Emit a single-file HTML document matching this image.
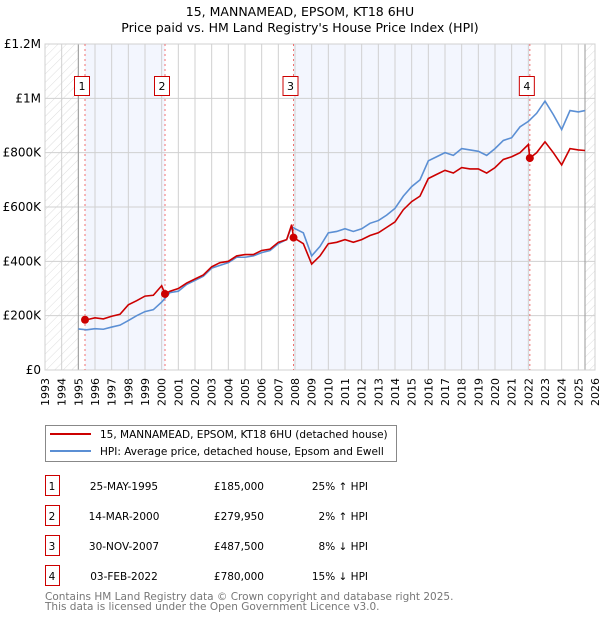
<!DOCTYPE html>
<html><head><meta charset="utf-8">
<style>
body{margin:0;background:#fff;font-family:"DejaVu Sans","Liberation Sans",sans-serif;}
svg text{font-family:"DejaVu Sans","Liberation Sans",sans-serif;}
</style></head>
<body>
<svg id="chart" width="600" height="620" xmlns="http://www.w3.org/2000/svg">
<defs>
<pattern id="hatch" width="6" height="6" patternUnits="userSpaceOnUse" patternTransform="rotate(45)">
<line x1="0" y1="0" x2="0" y2="6" stroke="#ddd" stroke-width="1"/>
</pattern>
</defs>
<text x="300" y="16" text-anchor="middle" font-size="12.5" fill="#000">15, MANNAMEAD, EPSOM, KT18 6HU</text>
<text x="300" y="32" text-anchor="middle" font-size="12.5" fill="#000">Price paid vs. HM Land Registry's House Price Index (HPI)</text>
<g id="plot"></g>
<g>
<rect x="45.5" y="425.5" width="351" height="36" fill="#fff" stroke="#888"/>
<line x1="50" y1="434" x2="91" y2="434" stroke="#cc0000" stroke-width="2"/>
<text x="100" y="438" font-size="10.5">15, MANNAMEAD, EPSOM, KT18 6HU (detached house)</text>
<line x1="50" y1="451" x2="91" y2="451" stroke="#5b8fd4" stroke-width="2"/>
<text x="100" y="455" font-size="10.5">HPI: Average price, detached house, Epsom and Ewell</text>
</g>
<g id="table"></g>
<text x="45" y="600" font-size="10.5" fill="#777">Contains HM Land Registry data © Crown copyright and database right 2025.</text>
<text x="45" y="610" font-size="10.5" fill="#777">This data is licensed under the Open Government Licence v3.0.</text>
</svg>
<script>
const hpiYears=[1995.0,1995.5,1996.0,1996.5,1997.0,1997.5,1998.0,1998.5,1999.0,1999.5,2000.0,2000.5,2001.0,2001.5,2002.0,2002.5,2003.0,2003.5,2004.0,2004.5,2005.0,2005.5,2006.0,2006.5,2007.0,2007.5,2007.8,2008.0,2008.5,2009.0,2009.5,2010.0,2010.5,2011.0,2011.5,2012.0,2012.5,2013.0,2013.5,2014.0,2014.5,2015.0,2015.5,2016.0,2016.5,2017.0,2017.5,2018.0,2018.5,2019.0,2019.5,2020.0,2020.5,2021.0,2021.5,2022.0,2022.5,2023.0,2023.5,2024.0,2024.5,2025.0,2025.4];
const hpiValues=[151,148,152,150,158,165,182,200,215,222,250,285,290,315,330,345,375,385,395,415,415,420,432,440,465,480,528,520,505,420,455,505,510,520,510,520,540,550,570,595,640,675,700,770,785,800,790,815,810,805,790,815,845,855,895,915,945,990,940,885,955,950,955];
const propYears=[1995.4,1995.5,1996.0,1996.5,1997.0,1997.5,1998.0,1998.5,1999.0,1999.5,2000.0,2000.2,2000.5,2001.0,2001.5,2002.0,2002.5,2003.0,2003.5,2004.0,2004.5,2005.0,2005.5,2006.0,2006.5,2007.0,2007.5,2007.8,2007.91,2008.5,2009.0,2009.5,2010.0,2010.5,2011.0,2011.5,2012.0,2012.5,2013.0,2013.5,2014.0,2014.5,2015.0,2015.5,2016.0,2016.5,2017.0,2017.5,2018.0,2018.5,2019.0,2019.5,2020.0,2020.5,2021.0,2021.5,2022.0,2022.09,2022.5,2023.0,2023.5,2024.0,2024.5,2025.0,2025.4];
const propValues=[185,185,192,188,198,205,240,255,272,275,310,280,290,300,320,335,350,380,395,400,420,425,425,440,445,470,480,535,487.5,465,390,420,465,470,480,470,480,495,505,525,545,590,620,640,705,720,735,725,745,740,740,725,745,775,785,800,830,780,800,840,800,755,815,810,808];
const saleLabels=["1","2","3","4"];
const saleYears=[1995.40,2000.20,2007.91,2022.09];
const saleValues=[185,279.95,487.5,780];
const saleDates=["25-MAY-1995","14-MAR-2000","30-NOV-2007","03-FEB-2022"];
const salePrices=["£185,000","£279,950","£487,500","£780,000"];
const saleHpi=["25% ↑ HPI","2% ↑ HPI","8% ↓ HPI","15% ↓ HPI"];
const yTicks=[0,200,400,600,800,1000,1200];
const yTickLabels=["£0","£200K","£400K","£600K","£800K","£1M","£1.2M"];

const NS="http://www.w3.org/2000/svg";
const X0=45,X1=595,Y0=370,Y1=44,YMIN=1993,YMAX=2026,VMAX=1200;
const xs=y=>X0+(y-YMIN)/(YMAX-YMIN)*(X1-X0);
const ys=v=>Y0-v/VMAX*(Y0-Y1);
const plot=document.getElementById('plot');
function mk(tag,attrs,parent){const e=document.createElementNS(NS,tag);for(const k in attrs)e.setAttribute(k,attrs[k]);(parent||plot).appendChild(e);return e;}

let r;
r=mk('rect',{x:X0,y:Y1,width:X1-X0,height:Y0-Y1,fill:'#fff'});


const endYear=2025.4;
r=mk('rect',{x:X0,y:Y1,width:xs(1995)-X0,height:Y0-Y1,fill:'url(#hatch)'});


r=mk('rect',{x:xs(endYear),y:Y1,width:X1-xs(endYear),height:Y0-Y1,fill:'url(#hatch)'});


[[0,1],[2,3]].forEach(([a,b],i)=>{
  const s=mk('rect',{x:xs(saleYears[a]),y:Y1,width:xs(saleYears[b])-xs(saleYears[a]),height:Y0-Y1,fill:'#f3f6fe'});
  
  
});
for(let y=YMIN;y<=YMAX;y++){
  const g=mk('line',{x1:xs(y),x2:xs(y),y1:Y1,y2:Y0,stroke:'#d0d0d0','stroke-width':1});
  
  
  const t=mk('text',{x:0,y:0,'font-size':11,'text-anchor':'end',transform:`translate(${xs(y)+4},${Y0+8}) rotate(-90)`});
  t.textContent=String(y);
  
  
}
yTicks.forEach((v,i)=>{
  const g=mk('line',{x1:X0,x2:X1,y1:ys(v),y2:ys(v),stroke:'#d0d0d0','stroke-width':1});
  
  
  const t=mk('text',{x:X0-4,y:ys(v)+4,'font-size':12,'text-anchor':'end'});
  t.textContent=yTickLabels[i];
  
  
});
r=mk('line',{x1:xs(1995),x2:xs(1995),y1:Y1,y2:Y0,stroke:'#999'});


r=mk('line',{x1:xs(endYear),x2:xs(endYear),y1:Y1,y2:Y0,stroke:'#999'});


r=mk('rect',{x:X0,y:Y1,width:X1-X0,height:Y0-Y1,fill:'none',stroke:'#d0d0d0'});


saleYears.forEach((y,i)=>{
  const l=mk('line',{x1:xs(y),x2:xs(y),y1:Y1,y2:Y0,stroke:'#f07070','stroke-width':1,'stroke-dasharray':'2,3'});
  
  
});
const hp=mk('polyline',{points:hpiYears.map((y,i)=>xs(y)+','+ys(hpiValues[i])).join(' '),fill:'none',stroke:'#5b8fd4','stroke-width':1.6});


const pp=mk('polyline',{points:propYears.map((y,i)=>xs(y)+','+ys(propValues[i])).join(' '),fill:'none',stroke:'#cc0000','stroke-width':1.6});


saleYears.forEach((y,i)=>{
  const c=mk('circle',{cx:xs(y),cy:ys(saleValues[i]),r:4,fill:'#cc0000'});
  
  
  const b=mk('rect',{x:xs(y)-10.5,y:76.5,width:15,height:19,fill:'#fff',stroke:'#cc0000'});
  
  
  const t=mk('text',{x:xs(y)-3,y:90,'font-size':11,'text-anchor':'middle'});
  t.textContent=saleLabels[i];
  
  
});
const tb=document.getElementById('table');
saleLabels.forEach((l,i)=>{
  const cy=483+i*30;
  const b=mk('rect',{x:45.5,y:cy-7.5,width:14,height:20,fill:'#fff',stroke:'#cc0000'},tb);
  
  
  const cells=[[52,l,'middle'],[124,saleDates[i],'middle'],[264,salePrices[i],'end'],[368,saleHpi[i],'end']];
  cells.forEach(([x,txt,anc],j)=>{
    const t=mk('text',{x:x,y:cy+7,'font-size':10.5,'text-anchor':anc},tb);
    t.textContent=txt;
    
    
  });
});
</script>
</body></html>
